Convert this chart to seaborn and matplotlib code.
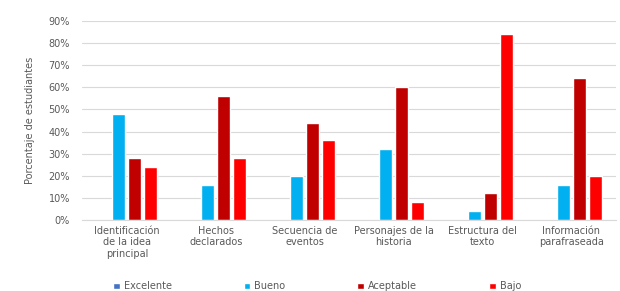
import pandas as pd
import numpy as np
import matplotlib.pyplot as plt
import seaborn as sns
from matplotlib.ticker import PercentFormatter

categorias = ["Identificación\nde la idea\nprincipal", "Hechos\ndeclarados", "Secuencia de\neventos",
              "Personajes de la\nhistoria", "Estructura del\ntexto", "Información\nparafraseada"]
niveles = ["Excelente", "Bueno", "Aceptable", "Bajo"]
excelente = [0, 0, 0, 0, 0, 0]
bueno = [48, 16, 20, 32, 4, 16]
aceptable = [28, 56, 44, 60, 12, 64]
bajo = [24, 28, 36, 8, 84, 20]
colores = ["#4472C4", "#00B0F0", "#C00000", "#FF0000"]

df = pd.DataFrame({"Excelente": excelente, "Bueno": bueno, "Aceptable": aceptable, "Bajo": bajo},
                  index=categorias)
df = df.reset_index().melt(id_vars="index", var_name="nivel", value_name="pct")
df.columns = ["categoria", "nivel", "pct"]

sns.set_style("white")
plt.rcParams["font.family"] = ["DejaVu Sans"]
gris = "#595959"

fig = plt.figure(figsize=(6.2, 2.91), dpi=100)
ax = fig.add_axes([0.133, 0.244, 0.86, 0.684])
sns.barplot(data=df, x="categoria", y="pct", hue="nivel", hue_order=niveles, palette=colores,
            saturation=1, width=0.72, gap=0.18, ax=ax, legend=True)

ax.set_ylim(0, 90)
ax.set_yticks(np.arange(0, 91, 10))
ax.yaxis.set_major_formatter(PercentFormatter(decimals=0))
ax.grid(axis="y", color="#d9d9d9", linewidth=0.8)
ax.set_axisbelow(True)
for s in ["top", "right", "left"]:
    ax.spines[s].set_visible(False)
ax.spines["bottom"].set_color("#d9d9d9")
ax.tick_params(axis="both", length=0, labelsize=7, colors=gris)
ax.tick_params(axis="y", pad=9)
ax.tick_params(axis="x", pad=4)
ax.set_xlabel("")
ax.set_ylabel("Porcentaje de estudiantes", fontsize=7, color=gris, labelpad=10)
ax.set_xlim(-0.5, 5.5)

ax.legend(loc="upper center", bbox_to_anchor=(0.44, -0.265), ncol=4, frameon=False,
          fontsize=7, columnspacing=7.4, handlelength=0.7, handleheight=0.7,
          handletextpad=0.4, labelcolor=gris)

fig.savefig("out.png", dpi=100)
